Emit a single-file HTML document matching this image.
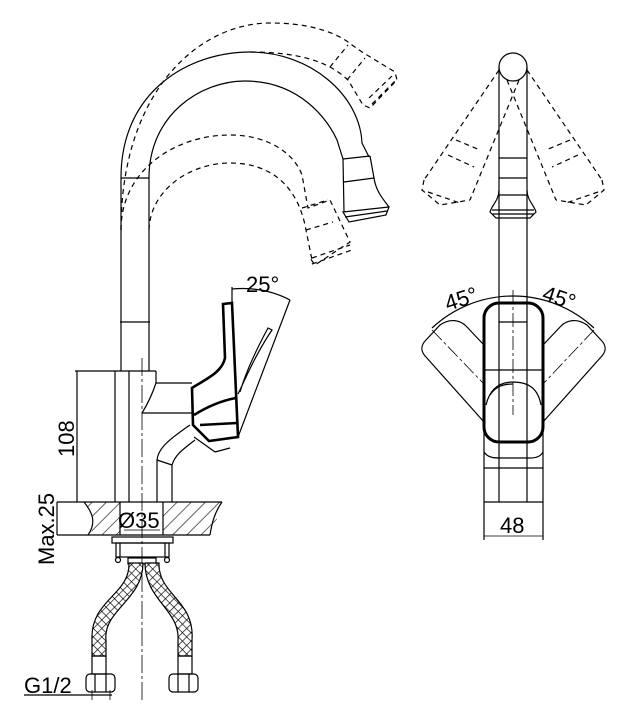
<!DOCTYPE html>
<html><head><meta charset="utf-8"><style>
html,body{margin:0;padding:0;background:#fff;}
svg{display:block;}
text{font-family:"Liberation Sans",sans-serif;fill:#000;stroke:none;}
</style></head><body>
<svg width="632" height="720" viewBox="0 0 632 720" xmlns="http://www.w3.org/2000/svg">
<defs>
<pattern id="hatch" width="10" height="10" patternUnits="userSpaceOnUse" patternTransform="rotate(45)">
<line x1="0" y1="0" x2="0" y2="10" stroke="#000" stroke-width="1.2"/>
</pattern>
<pattern id="mesh" width="6" height="6" patternUnits="userSpaceOnUse" patternTransform="rotate(45)">
<rect width="6" height="6" fill="#fff"/>
<line x1="0" y1="0" x2="0" y2="6" stroke="#000" stroke-width="1.3"/>
<line x1="0" y1="0" x2="6" y2="0" stroke="#000" stroke-width="1.3"/>
</pattern>
</defs>
<g fill="none" stroke="#000" stroke-width="1.2">
<path d="M121,178 C121,90 190,52 250,52 C310,52 360,95 362,143 L369,157"/>
<path d="M149,178 C149,115 200,81 245,81 C300,81 328,120 337,140 L343,159"/>
<line x1="121" y1="178" x2="121" y2="371"/>
<line x1="149" y1="178" x2="149" y2="371"/>
<line x1="121" y1="178" x2="149" y2="178"/>
<line x1="120" y1="322" x2="150" y2="322"/>
<line x1="343" y1="159" x2="370" y2="156"/>
<line x1="344" y1="182" x2="374" y2="178"/>
<path d="M343,159 L344,212"/>
<path d="M370,156 L374,178 C376,192 384,200 389,207"/>
<path d="M343,212 L389,207 L386,215 L349,222 Z"/>
<line x1="345" y1="217" x2="387" y2="211"/>
<g stroke-dasharray="5,4">
<path d="M121,230 C121,90 200,23 270,23 C315,23 340,35 352,45 L362,52 L395,72 L397,80 L370,108 L363,105 L348,80 C335,68 312,52 250,52"/>
<line x1="330" y1="67" x2="348" y2="45"/>
<line x1="347" y1="80" x2="365" y2="58"/>
<line x1="372" y1="104" x2="396" y2="80"/>
<line x1="369" y1="98" x2="392" y2="76"/>
<path d="M121,230 C121,170 175,135 230,135 C270,135 295,155 302,175 L308,208 L330,200 L350,242 L315,265 L310,258"/>
<path d="M149,230 C150,190 190,163 230,163 C270,163 298,185 306,230 L312,260"/>
<line x1="302" y1="208" x2="328" y2="200"/>
<line x1="306" y1="230" x2="333" y2="222"/>
<line x1="312" y1="258" x2="350" y2="245"/>
<line x1="312" y1="264" x2="352" y2="250"/>
</g>
<line x1="75" y1="371" x2="156" y2="371"/>
<line x1="115" y1="371" x2="115" y2="502"/>
<line x1="129" y1="371" x2="129" y2="502"/>
<line x1="156" y1="371" x2="156" y2="383"/>
<path d="M156,383 C152,395 147,405 142,413"/>
<line x1="156" y1="383" x2="192" y2="383"/>
<line x1="142" y1="413" x2="192" y2="413"/>
<path d="M157,502 L157,460 C158,450 165,442 190,425"/>
<path d="M172,502 L172,465 C175,455 182,450 195,440"/>
<line x1="157" y1="460" x2="172" y2="465"/>
<line x1="142" y1="358" x2="142" y2="700" stroke-width="0.8" stroke-dasharray="18,3,3,3"/>
<g stroke-width="2.6">
<path d="M223,304 L232,303 L238,437 L209,441 L193,425 L192,388 C208,378 222,372 225,358 Z"/>
<path d="M194,415 C210,405 225,400 236,398"/>
<line x1="200" y1="425" x2="237" y2="423"/>
</g>
<line x1="194" y1="437" x2="215" y2="452"/>
<line x1="215" y1="452" x2="230" y2="448"/>
<path d="M238,394 C245,380 255,355 272,330 L268,328 C255,352 245,375 240,392"/>
<line x1="232" y1="303" x2="232" y2="287"/>
<line x1="238" y1="437" x2="290" y2="300"/>
<path d="M232,289 C255,287 275,292 290,300"/>
<path d="M84,502 C90,512 97,520 90,535 L120,535 L120,502 Z M163,502 L222,502 L212,535 L163,535 Z" fill="url(#hatch)" stroke="none"/>
<line x1="57" y1="502" x2="222" y2="502"/>
<line x1="57" y1="535" x2="210" y2="535"/>
<path d="M84,502 C92,512 97,522 88,535"/>
<path d="M222,502 C215,512 212,522 210,535"/>
<line x1="120" y1="502" x2="120" y2="535"/>
<line x1="163" y1="502" x2="163" y2="535"/>
<line x1="124" y1="530" x2="160" y2="530" stroke-width="0.8"/>
<line x1="77" y1="371" x2="77" y2="502"/>
<line x1="57" y1="502" x2="57" y2="535"/>
<rect x="112" y="537" width="61" height="6"/>
<rect x="116" y="543" width="53" height="14"/>
<line x1="120" y1="543" x2="120" y2="557"/>
<line x1="165" y1="543" x2="165" y2="557"/>
<circle cx="118" cy="560" r="2.5"/>
<circle cx="167" cy="560" r="2.5"/>
<rect x="128" y="558" width="28" height="6"/>
<path d="M129,563 L143,563 C143,600 103,610 106,640 L106,656 L92,656 L92,640 C90,600 130,595 129,563 Z" fill="url(#mesh)"/>
<path d="M145,563 L159,563 C158,595 195,600 192,640 L192,656 L178,656 L178,640 C180,610 145,600 145,563 Z" fill="url(#mesh)"/>
<rect x="92" y="656" width="14" height="18"/>
<rect x="178" y="656" width="14" height="18"/>
<rect x="86" y="674" width="29" height="18" rx="4"/>
<rect x="169" y="674" width="29" height="18" rx="4"/>
<line x1="95" y1="674" x2="95" y2="692"/><line x1="106" y1="674" x2="106" y2="692"/>
<line x1="178" y1="674" x2="178" y2="692"/><line x1="189" y1="674" x2="189" y2="692"/>
<line x1="24" y1="695" x2="112" y2="695"/>
<line x1="92" y1="690" x2="92" y2="700" stroke-width="0.8"/>
<line x1="110" y1="690" x2="110" y2="700" stroke-width="0.8"/>

<circle cx="513" cy="67" r="14"/>
<line x1="499" y1="67" x2="499" y2="502"/>
<line x1="527" y1="67" x2="527" y2="502"/>
<g stroke-dasharray="5,4">
<line x1="499" y1="70" x2="424" y2="180"/>
<line x1="519" y1="80" x2="470" y2="200"/>
<line x1="527" y1="70" x2="602" y2="180"/>
<line x1="507" y1="80" x2="556" y2="200"/>
<path d="M424,180 L422,190 L440,205 L470,200"/>
<path d="M602,180 L604,190 L586,205 L556,200"/>
<line x1="428" y1="192" x2="460" y2="203"/>
<line x1="598" y1="192" x2="566" y2="203"/>
<line x1="456" y1="140" x2="480" y2="150"/>
<line x1="448" y1="155" x2="474" y2="167"/>
<line x1="570" y1="140" x2="546" y2="150"/>
<line x1="578" y1="155" x2="552" y2="167"/>
</g>
<line x1="499" y1="158" x2="527" y2="158"/>
<line x1="499" y1="178" x2="527" y2="178"/>
<path d="M499,190 C499,200 492,205 490,212 L496,218 L530,218 L536,212 C534,205 527,200 527,190"/>
<line x1="499" y1="195" x2="527" y2="195"/>
<line x1="492" y1="210" x2="534" y2="210"/>
<line x1="492" y1="214" x2="534" y2="214"/>
<path d="M484,345 L466,326 C460,320 450,318 440,325 L426,340 C420,346 421,352 426,357 L484,422"/>
<path d="M543,345 L561,326 C567,320 577,318 587,325 L601,340 C607,346 606,352 601,357 L543,422"/>
<line x1="432" y1="330" x2="484" y2="384" stroke-width="0.8" stroke-dasharray="14,3,3,3"/>
<line x1="594" y1="330" x2="543" y2="384" stroke-width="0.8" stroke-dasharray="14,3,3,3"/>
<rect x="484" y="303" width="59" height="139" rx="15" stroke-width="3"/>
<line x1="499" y1="322" x2="527" y2="322"/>
<line x1="484" y1="370" x2="543" y2="370"/>
<path d="M486,405 C490,388 500,382 513,382 C528,382 538,388 541,405"/>
<path d="M490,395 C496,386 504,384 513,384"/>
<line x1="513" y1="290" x2="513" y2="415" stroke-width="0.8" stroke-dasharray="14,3,3,3"/>
<path d="M432,328 A118.5,118.5 0 0 1 594,328"/>
<path d="M484,430 L484,452 C488,458 495,458 500,458 L530,458 C536,458 541,456 543,452 L543,430"/>
<line x1="484" y1="452" x2="484" y2="502"/>
<line x1="543" y1="452" x2="543" y2="502"/>
<line x1="484" y1="468" x2="543" y2="468"/>
<line x1="484" y1="502" x2="543" y2="502"/>
<line x1="484" y1="502" x2="484" y2="540"/>
<line x1="543" y1="502" x2="543" y2="540"/>
<line x1="484" y1="536" x2="543" y2="536" stroke-width="0.8"/>
</g>
<text x="246" y="292" font-size="22">25°</text>
<text x="118" y="528" font-size="22">Ø35</text>
<text x="500" y="533" font-size="22">48</text>
<text x="444" y="306" font-size="22" transform="rotate(-18 462 297)">45°</text>
<text x="543" y="306" font-size="22" transform="rotate(18 562 297)">45°</text>
<text font-size="22" transform="translate(74,457) rotate(-90)">108</text>
<text font-size="22" transform="translate(54,565) rotate(-90)">Max.25</text>
<text x="24" y="693" font-size="22">G1/2</text>
</svg>
</body></html>
